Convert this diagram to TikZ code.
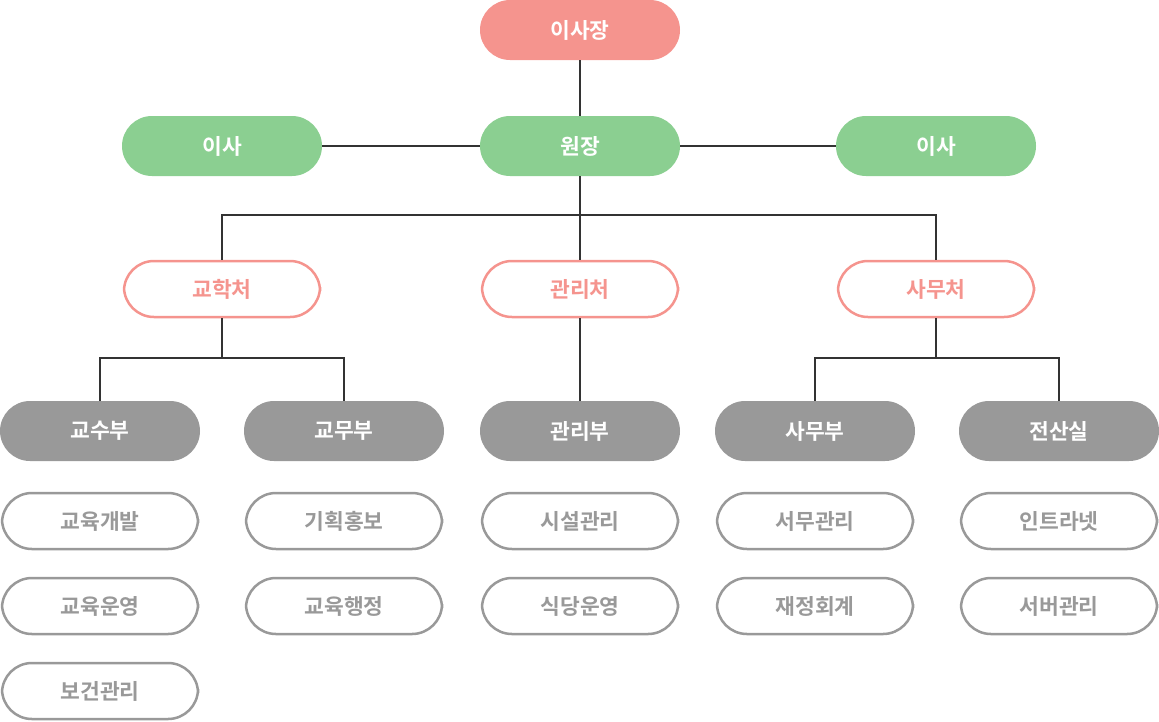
\documentclass[tikz,border=0pt]{standalone}
\usepackage{fontspec}
\setmainfont{Noto Sans CJK KR}[BoldFont={Noto Sans CJK KR Bold}]
\usepackage{tikz}
\usetikzlibrary{calc,positioning}
\definecolor{pinkc}{HTML}{F5948E}
\definecolor{greenc}{HTML}{8BCF91}
\definecolor{grayc}{HTML}{999999}
\definecolor{linec}{HTML}{333333}
\tikzstyle{pill}=[rectangle,rounded corners=30pt,minimum width=200pt,minimum height=60pt,inner sep=0pt,font=\fontsize{21.5}{26}\selectfont\bfseries]
\tikzstyle{head}=[pill,fill=pinkc,text=white]
\tikzstyle{exec}=[pill,fill=greenc,text=white]
\tikzstyle{office}=[pill,draw=pinkc,fill=white,text=pinkc,line width=2.5pt,minimum width=196pt,minimum height=56pt]
\tikzstyle{dept}=[pill,fill=grayc,text=white]
\tikzstyle{task}=[pill,draw=grayc,fill=white,text=grayc,line width=2.5pt,minimum width=196pt,minimum height=56pt]

\begin{document}
\begin{tikzpicture}[x=1pt,y=1pt,
every edge/.style = {draw, linec, line width=2pt}]
\useasboundingbox (0,0) rectangle (1159,-721);
% top
\node [head] (chair) at (580,-30) {이사장};
\node [exec] (dir) at (580,-146) {원장};
\node [exec] (memL) at (222,-146) {이사};
\node [exec] (memR) at (936,-146) {이사};
% offices
\node [office] (gyohak) at (222,-289) {교학처};
\node [office] (gwanri) at (580,-289) {관리처};
\node [office] (samu) at (936,-289) {사무처};
% departments
\node [dept] (gyosu) at (100,-431) {교수부};
\node [dept] (gyomu) at (344,-431) {교무부};
\node [dept] (gwanribu) at (580,-431) {관리부};
\node [dept] (samubu) at (815,-431) {사무부};
\node [dept] (jeonsan) at (1059,-431) {전산실};
% tasks
\node [task] (t11) at (100,-521) {교육개발};
\node [task] (t12) at (100,-606) {교육운영};
\node [task] (t13) at (100,-691) {보건관리};
\node [task] (t21) at (344,-521) {기획홍보};
\node [task] (t22) at (344,-606) {교육행정};
\node [task] (t31) at (580,-521) {시설관리};
\node [task] (t32) at (580,-606) {식당운영};
\node [task] (t41) at (815,-521) {서무관리};
\node [task] (t42) at (815,-606) {재정회계};
\node [task] (t51) at (1059,-521) {인트라넷};
\node [task] (t52) at (1059,-606) {서버관리};
% links
\coordinate (busA) at (580,-215);
\coordinate (busB) at (222,-358);
\coordinate (busC) at (936,-358);
\path (chair.south) edge (dir.north)
      (memL.east) edge (dir.west)
      (dir.east) edge (memR.west)
      (dir.south) edge (gwanri.north)
      (gwanri.south) edge (gwanribu.north);
\draw [linec, line width=2pt] (busA) -| (gyohak.north);
\draw [linec, line width=2pt] (busA) -| (samu.north);
\draw [linec, line width=2pt] (gyohak.south) -- (busB) -| (gyosu.north);
\draw [linec, line width=2pt] (busB) -| (gyomu.north);
\draw [linec, line width=2pt] (samu.south) -- (busC) -| (samubu.north);
\draw [linec, line width=2pt] (busC) -| (jeonsan.north);
\end{tikzpicture}
\end{document}
